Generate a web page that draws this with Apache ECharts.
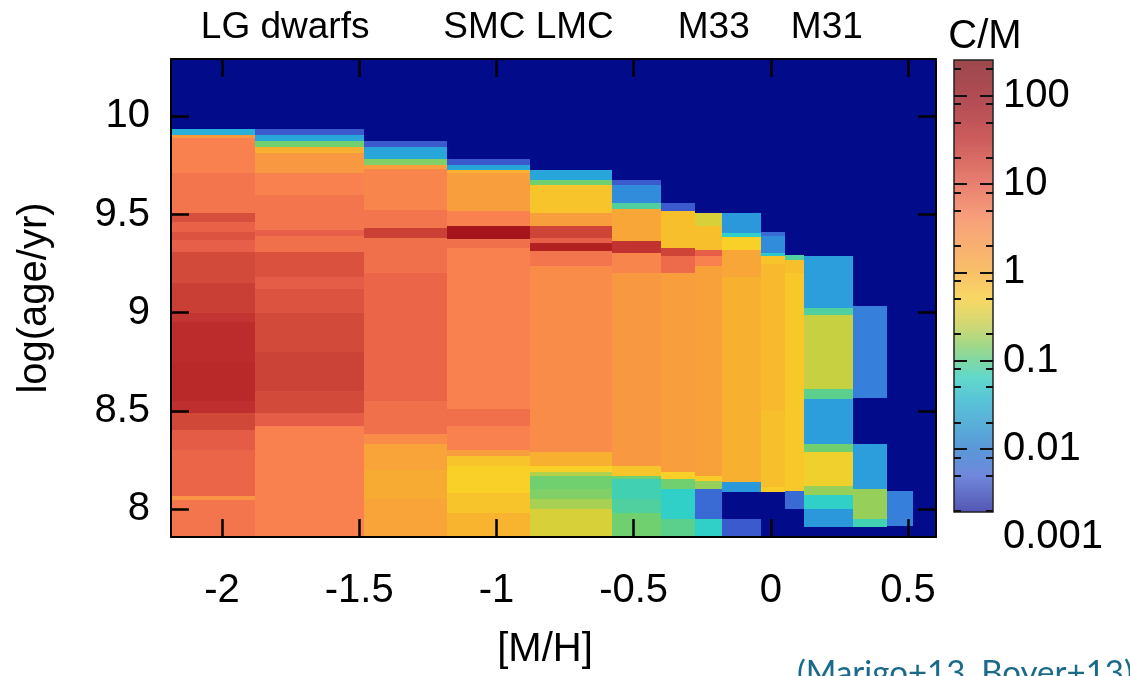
<!DOCTYPE html>
<html>
<head>
<meta charset="utf-8">
<script src="https://cdn.jsdelivr.net/npm/echarts@6/dist/echarts.min.js"></script>
<style>
  html, body { margin: 0; padding: 0; background: #fff; }
  #chart { width: 1130px; height: 676px; }
</style>
</head>
<body>
<div id="chart"></div>
<script>
// [M/H] bin edges of the metallicity columns
const mhEdges = [-2.184, -1.879, -1.482, -1.180, -0.878, -0.578, -0.401, -0.276, -0.179, -0.034, 0.051, 0.122, 0.298, 0.423, 0.519];

// One list per metallicity column: [upper log(age/yr) of the band, C/M ratio].
// A band runs down to the next entry; null means no carbon/M-star data.
const cmBin01 = [[9.937,0.02],[9.907,2.5],[9.89,6],[9.71,8],[9.51,25],[9.46,12],[9.41,20],[9.37,13],[9.31,30],[9.15,42],[9.0,55],[8.95,75],[8.75,85],[8.55,65],[8.49,32],[8.40,15],[8.30,11],[8.065,3],[8.048,8],[7.857,null]];
const cmBin02 = [[9.937,0.003],[9.907,0.015],[9.873,0.1],[9.844,1.0],[9.814,2.5],[9.713,6],[9.60,8],[9.42,13],[9.39,9],[9.31,22],[9.18,14],[9.12,20],[9.0,30],[8.8,38],[8.6,30],[8.49,14],[8.42,6],[7.857,null]];
const cmBin03 = [[9.873,0.003],[9.844,0.015],[9.783,0.12],[9.754,2],[9.73,5],[9.525,8],[9.43,40],[9.38,9],[9.2,11],[8.55,9],[8.38,4],[8.33,1.6],[8.2,1.2],[8.05,1.6],[7.857,null]];
const cmBin04 = [[9.783,0.003],[9.754,0.015],[9.725,1],[9.712,2],[9.516,6],[9.44,200],[9.373,9],[9.33,6],[8.51,9],[8.42,6],[8.30,2],[8.27,0.6],[8.22,0.45],[8.08,0.6],[7.98,0.9],[7.857,null]];
const cmBin05 = [[9.725,0.015],[9.674,0.1],[9.652,0.6],[9.51,2],[9.44,35],[9.38,13],[9.356,120],[9.313,8],[9.24,4],[8.29,1],[8.22,0.45],[8.19,0.2],[8.17,0.1],[8.10,0.12],[8.05,0.18],[8.0,0.3],[7.857,null]];
const cmBin06 = [[9.678,0.003],[9.652,0.008],[9.559,0.07],[9.529,1.5],[9.364,60],[9.305,5],[9.20,2.5],[8.22,0.6],[8.17,0.1],[8.15,0.06],[8.05,0.07],[7.98,0.1],[7.857,null]];
const cmBin07 = [[9.559,0.003],[9.516,0.7],[9.33,35],[9.288,10],[9.203,2],[8.19,0.45],[8.15,0.1],[8.10,0.05],[7.95,0.08],[7.857,null]];
const cmBin08 = [[9.508,0.3],[9.44,0.7],[9.32,13],[9.288,6],[9.237,1.8],[8.17,0.5],[8.14,0.15],[8.10,0.004],[7.95,0.05],[7.857,null]];
const cmBin09 = [[9.508,0.01],[9.406,0.05],[9.386,0.45],[9.32,1.5],[9.184,1.0],[8.135,0.01],[8.085,null],[7.95,0.003],[7.857,null]];
const cmBin10 = [[9.41,0.004],[9.39,0.008],[9.305,0.04],[9.29,0.6],[9.25,0.8],[8.5,0.7],[8.11,0.5],[8.085,null]];
const cmBin11 = [[9.296,0.07],[9.27,0.7],[9.2,0.55],[8.09,0.004],[8.0,null]];
const cmBin12 = [[9.288,0.012],[9.025,0.07],[8.99,0.25],[8.61,0.08],[8.56,0.012],[8.33,0.1],[8.29,0.4],[8.115,0.15],[8.07,0.05],[8.0,0.01],[7.91,null]];
const cmBin13 = [[9.033,0.006],[8.567,null],[8.33,0.012],[8.10,0.15],[7.95,0.06],[7.91,null]];
const cmBin14 = [[8.092,0.006],[7.913,null]];

// Axis ticks and labels
const mhTicks = [-2, -1.5, -1, -0.5, 0, 0.5];
const ageTicks = [8, 8.5, 9, 9.5, 10];
const cmMajorTicks = [-2, -1, 0, 1, 2];          // log10 C/M
const cmLabelTicks = [-3, -2, -1, 0, 1, 2];
const cmMinorFactors = [2, 5, 8];
const galaxyLabels = ['LG dwarfs', 'SMC LMC', 'M33', 'M31'];
const galaxyLabelMH = [-1.770, -0.883, -0.208, 0.204];

// Axis ranges
const mhRange = [-2.186, 0.602];
const ageRange = [7.857, 10.292];
const cmLogRange = [-3, 2.404];
const cmBarBottom = -2.713;

const FONT = 'Liberation Sans, Arial, Helvetica, sans-serif';
const GRID = { left: 171, top: 59, width: 765, height: 478 };

// Colour ramps (log10 C/M -> colour) for the map and the colour bar
const mapStops = [[-3.0,'#2a2aa0'],[-2.6,'#3a50c8'],[-2.3,'#3a78dc'],[-2.0,'#2c98dc'],[-1.7,'#28b0d8'],[-1.3,'#30d0c8'],[-1.0,'#70d070'],[-0.6,'#c8d040'],[-0.35,'#f8d028'],[0.0,'#f8b030'],[0.4,'#f89840'],[0.8,'#f88050'],[1.1,'#e86048'],[1.5,'#d04838'],[1.8,'#c03030'],[2.1,'#b02020'],[2.404,'#a01018']];
const barStops = [[-3.0,'#4a48a0'],[-2.7,'#5458b4'],[-2.3,'#7088dc'],[-2.0,'#5a98d8'],[-1.5,'#58c0d8'],[-1.2,'#60d8cc'],[-1.0,'#80d8a4'],[-0.8,'#a8d884'],[-0.6,'#d0d874'],[-0.3,'#f8d864'],[0.0,'#f8c068'],[0.3,'#f8b070'],[0.6,'#f8a07c'],[1.0,'#e88070'],[1.5,'#cc5c5c'],[2.0,'#b04c54'],[2.404,'#9c484c']];

function hexToRgb(h) { return [1,3,5].map(i => parseInt(h.substr(i,2),16)); }
function rgbToHex(c) { return '#' + c.map(v => Math.round(v).toString(16).padStart(2,'0')).join(''); }
function sampleRamp(stops, lo, hi, n) {
  const out = [];
  for (let i = 0; i < n; i++) {
    const v = lo + (hi - lo) * i / (n - 1);
    let k = 0;
    while (k < stops.length - 2 && v > stops[k + 1][0]) k++;
    const [v0, c0] = stops[k], [v1, c1] = stops[k + 1];
    const t = Math.min(1, Math.max(0, (v - v0) / (v1 - v0)));
    const a = hexToRgb(c0), b = hexToRgb(c1);
    out.push(rgbToHex(a.map((x, j) => x + (b[j] - x) * t)));
  }
  return out;
}

// Cells of the map: [mhLow, mhHigh, ageLow, ageHigh, log10(C/M)]
const columns = [cmBin01, cmBin02, cmBin03, cmBin04, cmBin05, cmBin06, cmBin07, cmBin08, cmBin09, cmBin10, cmBin11, cmBin12, cmBin13, cmBin14];
const cells = [];
columns.forEach((col, i) => {
  for (let k = 0; k < col.length - 1; k++) {
    const top = col[k][0], cm = col[k][1], bottom = col[k + 1][0];
    if (cm == null) continue;
    cells.push([mhEdges[i], mhEdges[i + 1], bottom, top, Math.log10(cm)]);
  }
});

// Colour bar strips
const barStrips = [];
const nStrips = 300;
for (let i = 0; i < nStrips; i++) {
  const lo = cmBarBottom + (cmLogRange[1] - cmBarBottom) * i / nStrips;
  const hi = cmBarBottom + (cmLogRange[1] - cmBarBottom) * (i + 1) / nStrips;
  barStrips.push([0, 1, lo, hi, (lo + hi) / 2]);
}
const cmMinorTicks = [];
for (let d = -3; d <= 2; d++) {
  cmMinorFactors.forEach(f => {
    const v = d + Math.log10(f);
    if (v > cmBarBottom && v < cmLogRange[1]) cmMinorTicks.push(v);
  });
}

function renderRect(params, api) {
  const p0 = api.coord([api.value(0), api.value(3)]);
  const p1 = api.coord([api.value(1), api.value(2)]);
  const x0 = Math.round(p0[0]), y0 = Math.round(p0[1]);
  const x1 = Math.round(p1[0]), y1 = Math.round(p1[1]);
  return {
    type: 'rect',
    shape: { x: x0, y: y0, width: x1 - x0, height: y1 - y0 },
    style: { fill: api.visual('color') }
  };
}
function renderOutline(params, api) {
  const p0 = api.coord([0, cmLogRange[1]]);
  const p1 = api.coord([1, cmBarBottom]);
  return {
    type: 'rect',
    shape: { x: p0[0], y: p0[1], width: p1[0] - p0[0], height: p1[1] - p0[1] },
    style: { fill: null, stroke: '#222', lineWidth: 1.5 }
  };
}

const axisLine = { show: true, onZero: false, lineStyle: { color: '#000', width: 2 } };
const mainTick = (vals) => ({ show: true, inside: true, length: 18, customValues: vals, lineStyle: { color: '#000', width: 2.5 } });
const mhToPx = v => GRID.left + (v - mhRange[0]) / (mhRange[1] - mhRange[0]) * GRID.width;

const chart = echarts.init(document.getElementById('chart'), null, { renderer: 'canvas' });
chart.setOption({
  backgroundColor: '#ffffff',
  animation: false,
  grid: [
    { left: GRID.left, top: GRID.top, width: GRID.width, height: GRID.height, show: true, backgroundColor: '#020b8a', borderWidth: 0 },
    { left: 954, top: 60, width: 39, height: 477.3, show: false }
  ],
  xAxis: [
    { gridIndex: 0, type: 'value', min: mhRange[0], max: mhRange[1], position: 'bottom', z: 10,
      axisLine, axisTick: mainTick(mhTicks), splitLine: { show: false },
      axisLabel: { customValues: mhTicks, fontSize: 40, fontFamily: FONT, color: '#000', margin: 34 } },
    { gridIndex: 0, type: 'value', min: mhRange[0], max: mhRange[1], position: 'top', z: 10,
      axisLine, axisTick: mainTick(mhTicks), splitLine: { show: false }, axisLabel: { show: false } },
    { gridIndex: 1, type: 'value', min: 0, max: 1, show: false }
  ],
  yAxis: [
    { gridIndex: 0, type: 'value', min: ageRange[0], max: ageRange[1], position: 'left', z: 10,
      axisLine, axisTick: mainTick(ageTicks), splitLine: { show: false },
      axisLabel: { customValues: ageTicks, fontSize: 40, fontFamily: FONT, color: '#000', margin: 21 } },
    { gridIndex: 0, type: 'value', min: ageRange[0], max: ageRange[1], position: 'right', z: 10,
      axisLine, axisTick: mainTick(ageTicks), splitLine: { show: false }, axisLabel: { show: false } },
    { gridIndex: 1, type: 'value', min: cmLogRange[0], max: cmLogRange[1], position: 'left', z: 10,
      axisLine: { show: false, onZero: false }, splitLine: { show: false }, axisLabel: { show: false },
      axisTick: { show: true, inside: true, length: 13, customValues: cmMajorTicks, lineStyle: { color: '#111', width: 2 } } },
    { gridIndex: 1, type: 'value', min: cmLogRange[0], max: cmLogRange[1], position: 'left', z: 10,
      axisLine: { show: false, onZero: false }, splitLine: { show: false }, axisLabel: { show: false },
      axisTick: { show: true, inside: true, length: 7, customValues: cmMinorTicks, lineStyle: { color: '#111', width: 2 } } },
    { gridIndex: 1, type: 'value', min: cmLogRange[0], max: cmLogRange[1], position: 'right', z: 10,
      axisLine: { show: false, onZero: false }, splitLine: { show: false },
      axisTick: { show: true, inside: true, length: 13, customValues: cmMajorTicks, lineStyle: { color: '#111', width: 2 } },
      axisLabel: { customValues: cmLabelTicks, fontSize: 40, fontFamily: FONT, color: '#000', margin: 10,
        formatter: v => { const e = Math.round(v); return e >= 0 ? String(Math.pow(10, e)) : (Math.pow(10, e)).toFixed(-e); } } },
    { gridIndex: 1, type: 'value', min: cmLogRange[0], max: cmLogRange[1], position: 'right', z: 10,
      axisLine: { show: false, onZero: false }, splitLine: { show: false }, axisLabel: { show: false },
      axisTick: { show: true, inside: true, length: 7, customValues: cmMinorTicks, lineStyle: { color: '#111', width: 2 } } }
  ],
  visualMap: [
    { type: 'continuous', show: false, seriesIndex: 0, dimension: 4, min: cmLogRange[0], max: cmLogRange[1],
      inRange: { color: sampleRamp(mapStops, cmLogRange[0], cmLogRange[1], 109) } },
    { type: 'continuous', show: false, seriesIndex: 1, dimension: 4, min: cmLogRange[0], max: cmLogRange[1],
      inRange: { color: sampleRamp(barStops, cmLogRange[0], cmLogRange[1], 109) } }
  ],
  series: [
    { type: 'custom', name: 'C/M', xAxisIndex: 0, yAxisIndex: 0, renderItem: renderRect,
      encode: { x: [0, 1], y: [2, 3] }, data: cells, silent: true },
    { type: 'custom', name: 'colour bar', xAxisIndex: 2, yAxisIndex: 2, renderItem: renderRect,
      encode: { x: [0, 1], y: [2, 3] }, data: barStrips, silent: true },
    { type: 'custom', name: 'colour bar frame', xAxisIndex: 2, yAxisIndex: 2, renderItem: renderOutline,
      data: [[0, 1, cmBarBottom, cmLogRange[1], 0]], z: 5, silent: true }
  ],
  graphic: [
    ...galaxyLabels.map((t, i) => ({
      type: 'text', x: mhToPx(galaxyLabelMH[i]), y: 28,
      style: { text: t, font: '37px ' + FONT, fill: '#000', align: 'center', verticalAlign: 'middle' }
    })),
    { type: 'text', x: 985, y: 37, style: { text: 'C/M', font: '40px ' + FONT, fill: '#000', align: 'center', verticalAlign: 'middle' } },
    { type: 'text', x: 35, y: 298, rotation: Math.PI / 2,
      style: { text: 'log(age/yr)', font: '40px ' + FONT, fill: '#000', align: 'center', verticalAlign: 'middle' } },
    { type: 'text', x: 545, y: 650, style: { text: '[M/H]', font: '40px ' + FONT, fill: '#000', align: 'center', verticalAlign: 'middle' } },
    { type: 'text', x: 797, y: 657, style: { text: '(Marigo+13, Boyer+13)', font: '33px Lato, sans-serif', fill: '#1a6a8c', align: 'left', verticalAlign: 'top' } }
  ]
});
</script>
</body>
</html>
